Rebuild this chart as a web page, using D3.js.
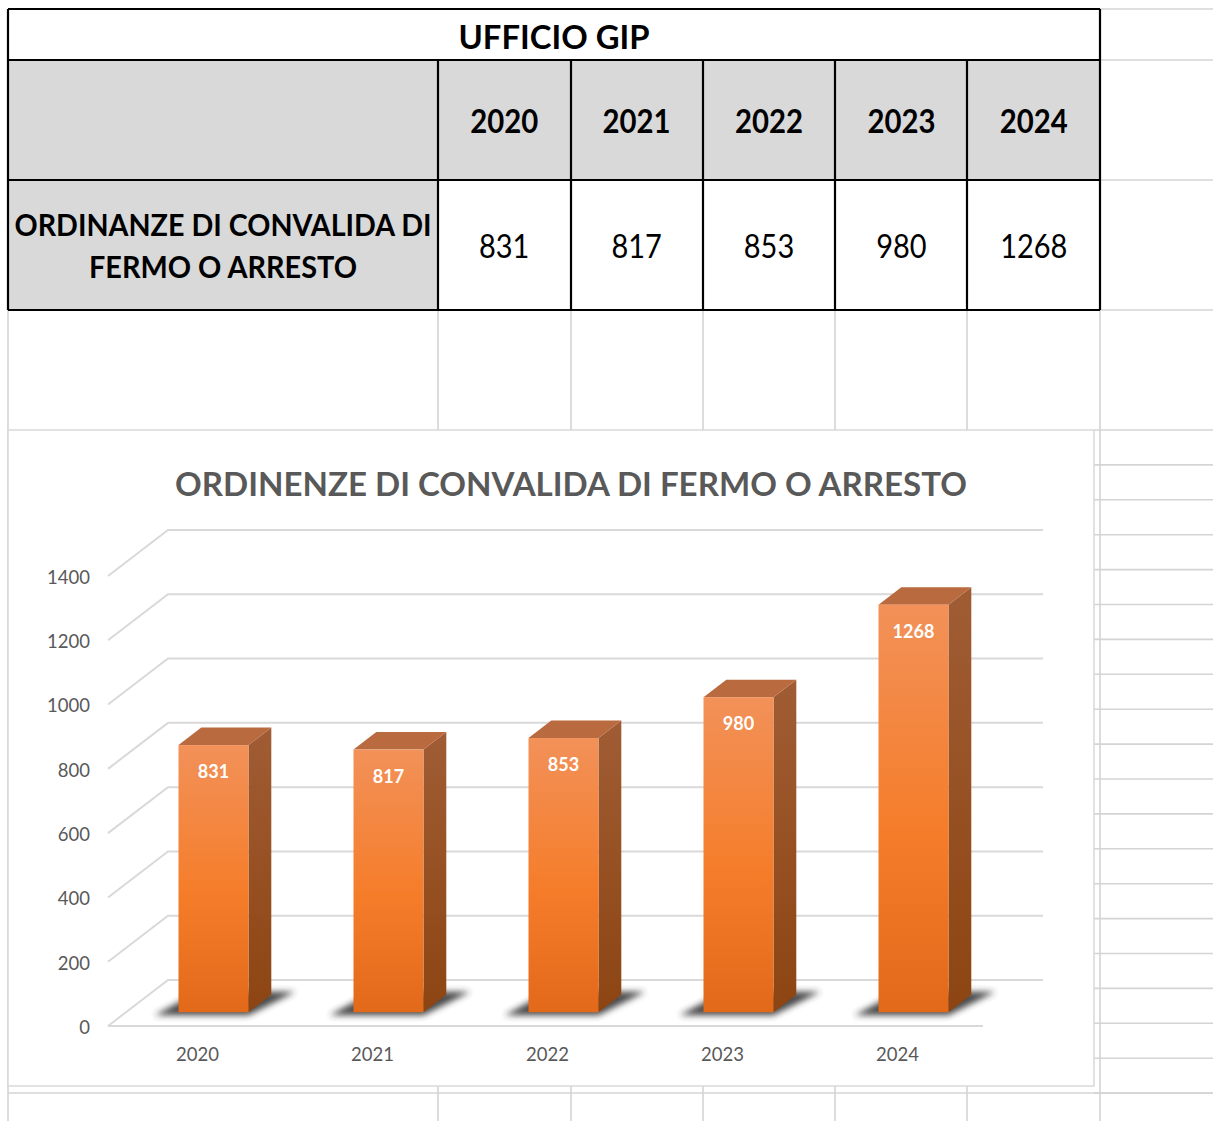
<!DOCTYPE html>
<meta charset="utf-8">
<style>
body { margin: 0; background: #fff; }
text { font-family: Lato, "Open Sans", sans-serif; }
.sheet line { stroke: #d4d4d4; stroke-width: 1.6; }
.tbl line { stroke: #000; stroke-width: 2.2; }
.axis text { font-size: 18.5px; fill: #595959; }
.wall { fill: none; stroke: #d9d9d9; stroke-width: 2; }
</style>
<svg width="1213" height="1121"></svg>
<script src="https://d3js.org/d3.v7.min.js"></script>
<script>
// table + chart data
var years = ["2020", "2021", "2022", "2023", "2024"];
var values = [831, 817, 853, 980, 1268];
var tableTitle = "UFFICIO GIP";
var rowLabel = ["ORDINANZE DI CONVALIDA DI", "FERMO O ARRESTO"];
var chartTitle = "ORDINENZE DI CONVALIDA DI FERMO O ARRESTO";
var yTicks = [0, 200, 400, 600, 800, 1000, 1200, 1400];

var svg = d3.select("svg");
svg.append("rect").attr("width", 1213).attr("height", 1121).attr("fill", "#fff");

// ---- spreadsheet gridlines behind everything
var sheet = svg.append("g").attr("class", "sheet");
var colEdges = [8, 438, 571, 703, 835, 967, 1100];
colEdges.forEach(function(cx) {
  sheet.append("line").attr("x1", cx).attr("x2", cx).attr("y1", 310).attr("y2", 1121);
});
[9, 60, 180, 310].forEach(function(ry) {
  sheet.append("line").attr("x1", 1100).attr("x2", 1213).attr("y1", ry).attr("y2", ry);
});
d3.range(20).forEach(function(k) {
  var ry = 430 + k * 34.9;
  sheet.append("line").attr("x1", 1094).attr("x2", 1213).attr("y1", ry).attr("y2", ry);
});
sheet.append("line").attr("x1", 8).attr("x2", 1213).attr("y1", 1093).attr("y2", 1093);

// ---- the table
var tbl = svg.append("g").attr("class", "tbl");
var yearCol = d3.scaleBand().domain(years).range([438, 1100]);

tbl.append("rect").attr("x", 8).attr("y", 60).attr("width", 1092).attr("height", 120).attr("fill", "#d9d9d9");
tbl.append("rect").attr("x", 8).attr("y", 180).attr("width", 430).attr("height", 130).attr("fill", "#d9d9d9");

[9, 60, 180, 310].forEach(function(ry) {
  tbl.append("line").attr("x1", 8).attr("x2", 1100).attr("y1", ry).attr("y2", ry);
});
tbl.append("line").attr("x1", 8).attr("x2", 8).attr("y1", 9).attr("y2", 310);
tbl.append("line").attr("x1", 1100).attr("x2", 1100).attr("y1", 9).attr("y2", 310);
colEdges.slice(1, -1).forEach(function(cx) {
  tbl.append("line").attr("x1", cx).attr("x2", cx).attr("y1", 60).attr("y2", 310);
});

tbl.append("text").attr("x", 554).attr("y", 49).attr("text-anchor", "middle")
  .attr("font-size", 32).attr("font-weight", 700)
  .attr("textLength", 191).attr("lengthAdjust", "spacingAndGlyphs")
  .text(tableTitle);

tbl.selectAll(".yr").data(years).enter().append("text")
  .attr("x", function(d) { return yearCol(d) + yearCol.bandwidth() / 2; })
  .attr("y", 133).attr("text-anchor", "middle")
  .attr("font-size", 32).attr("font-weight", 700)
  .attr("textLength", 68).attr("lengthAdjust", "spacingAndGlyphs")
  .text(function(d) { return d; });

tbl.selectAll(".val").data(values).enter().append("text")
  .attr("x", function(d, i) { return yearCol(years[i]) + yearCol.bandwidth() / 2; })
  .attr("y", 258).attr("text-anchor", "middle")
  .attr("font-size", 32)
  .text(function(d) { return d; })
  .attr("textLength", function(d) { return String(d).length * 16.8; })
  .attr("lengthAdjust", "spacingAndGlyphs");

var labelW = [417, 268];
tbl.selectAll(".lab").data(rowLabel).enter().append("text")
  .attr("x", 223).attr("y", function(d, i) { return 236 + i * 42; })
  .attr("text-anchor", "middle")
  .attr("font-size", 30).attr("font-weight", 700)
  .attr("textLength", function(d, i) { return labelW[i]; })
  .attr("lengthAdjust", "spacingAndGlyphs")
  .text(function(d) { return d; });

// ---- chart object
var chart = svg.append("g");
chart.append("rect").attr("x", 8).attr("y", 430).attr("width", 1086).attr("height", 656)
  .attr("fill", "#fff").attr("stroke", "#d9d9d9").attr("stroke-width", 1.5);

chart.append("text").attr("x", 571).attr("y", 496).attr("text-anchor", "middle")
  .attr("font-size", 33).attr("font-weight", 700).attr("fill", "#595959")
  .attr("textLength", 792).attr("lengthAdjust", "spacingAndGlyphs")
  .text(chartTitle);

var x = d3.scaleBand().domain(years).range([108, 983]);
var y = d3.scaleLinear().domain([0, 1400]).range([1026, 576]);
var depth = { dx: 60, dy: -46 };
function P(px, py, z) { return [px + z * depth.dx, py + z * depth.dy]; }
var line = d3.line();

// walls: left side + back gridlines, front floor edge
chart.selectAll(".wall").data(yTicks).enter().append("path")
  .attr("class", "wall")
  .attr("d", function(t) {
    return line([P(x.range()[0], y(t), 0), P(x.range()[0], y(t), 1), P(x.range()[1], y(t), 1)]);
  });
chart.append("path").attr("class", "wall")
  .attr("d", line([P(x.range()[0], y(0), 0), P(x.range()[1], y(0), 0)]));

// axes (labels only)
chart.append("g").attr("class", "axis")
  .attr("transform", "translate(" + x.range()[0] + ",0)")
  .call(d3.axisLeft(y).tickValues(yTicks).tickFormat(d3.format("d")).tickSize(0).tickPadding(18))
  .call(function(g) { g.select(".domain").remove(); })
  .selectAll("text").attr("font-family", null).attr("dy", "0.4em");
chart.append("g").attr("class", "axis")
  .attr("transform", "translate(0," + y(0) + ")")
  .call(d3.axisBottom(x).tickSize(0).tickPadding(22))
  .call(function(g) { g.select(".domain").remove(); })
  .selectAll("text").attr("font-family", null).attr("dx", 2);

// defs: gradients + shadow blur
var defs = svg.append("defs");
var gFront = defs.append("linearGradient").attr("id", "front").attr("x1", 0).attr("x2", 0).attr("y1", 0).attr("y2", 1);
gFront.append("stop").attr("offset", "0%").attr("stop-color", "#f29159");
gFront.append("stop").attr("offset", "55%").attr("stop-color", "#f57d2a");
gFront.append("stop").attr("offset", "100%").attr("stop-color", "#e2691a");
var gSide = defs.append("linearGradient").attr("id", "side").attr("x1", 0).attr("x2", 0).attr("y1", 0).attr("y2", 1);
gSide.append("stop").attr("offset", "0%").attr("stop-color", "#a05c34");
gSide.append("stop").attr("offset", "100%").attr("stop-color", "#8c4512");
defs.append("filter").attr("id", "blur").attr("x", "-50%").attr("y", "-50%").attr("width", "200%").attr("height", "200%")
  .append("feGaussianBlur").attr("stdDeviation", 3);

var z0 = 0.3, z1 = 0.68;
var bars = chart.selectAll(".bar").data(values).enter().append("g");

function geom(v, i) {
  var xl = x(years[i]) + x.bandwidth() * 0.3;
  var xr = xl + x.bandwidth() * 0.4;
  return { xl: xl, xr: xr, top: y(v), base: y(0) };
}

bars.append("path")
  .attr("fill", "#2b2b2b").attr("opacity", 0.85).attr("filter", "url(#blur)")
  .attr("d", function(v, i) {
    var g = geom(v, i);
    var a = P(g.xl, g.base, z0), b = P(g.xr, g.base, z0), c = P(g.xr, g.base, z1);
    return line([[a[0] - 24, a[1] + 3], [b[0], b[1] + 3], [c[0] + 24, c[1] - 3], [a[0] + 20, c[1] - 3]]) + "Z";
  });

bars.append("path").attr("fill", "url(#side)")
  .attr("d", function(v, i) {
    var g = geom(v, i);
    return line([P(g.xr, g.top, z0), P(g.xr, g.top, z1), P(g.xr, g.base, z1), P(g.xr, g.base, z0)]) + "Z";
  });
bars.append("path").attr("fill", "#b96a3f")
  .attr("d", function(v, i) {
    var g = geom(v, i);
    return line([P(g.xl, g.top, z0), P(g.xr, g.top, z0), P(g.xr, g.top, z1), P(g.xl, g.top, z1)]) + "Z";
  });
bars.append("rect").attr("fill", "url(#front)")
  .attr("x", function(v, i) { return P(geom(v, i).xl, 0, z0)[0]; })
  .attr("y", function(v, i) { return P(0, geom(v, i).top, z0)[1]; })
  .attr("width", x.bandwidth() * 0.4)
  .attr("height", function(v) { return y(0) - y(v); });

bars.append("text")
  .attr("x", function(v, i) { var g = geom(v, i); return P((g.xl + g.xr) / 2, 0, z0)[0]; })
  .attr("y", function(v, i) { return P(0, geom(v, i).top, z0)[1] + 33; })
  .attr("text-anchor", "middle").attr("font-size", 18).attr("font-weight", 700).attr("fill", "#fff")
  .text(function(v) { return v; });
</script>
